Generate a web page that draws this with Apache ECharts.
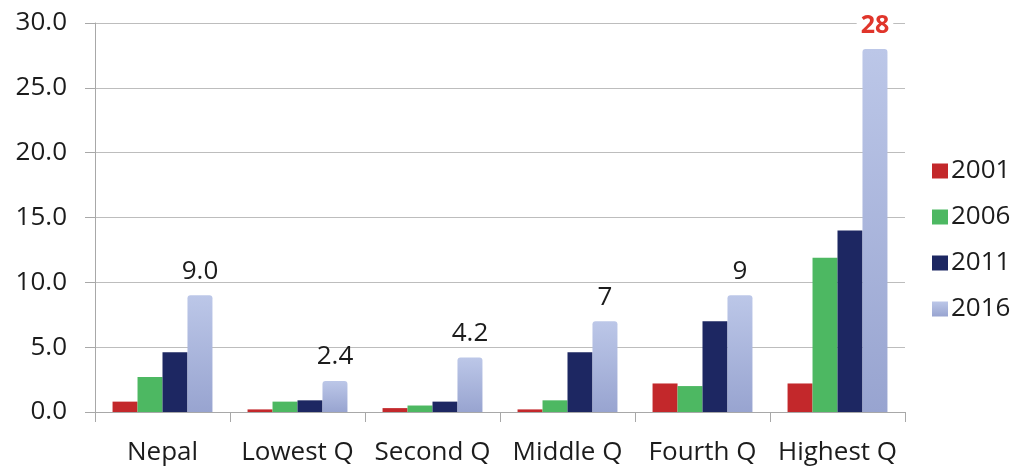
<!DOCTYPE html>
<html>
<head>
<meta charset="utf-8">
<script src="https://cdn.jsdelivr.net/npm/echarts@6/dist/echarts.min.js"></script>
<style>
  html, body { margin: 0; padding: 0; background: #fff; }
  #chart { width: 1021px; height: 467px; }
</style>
</head>
<body>
<div id="chart"></div>
<script>
// Groups along the x axis
const categories = ['Nepal', 'Lowest Q', 'Second Q', 'Middle Q', 'Fourth Q', 'Highest Q'];

// Survey years and their values per group
const years = ['2001', '2006', '2011', '2016'];
const values2001 = [0.8, 0.2, 0.3, 0.2, 2.2, 2.2];
const values2006 = [2.7, 0.8, 0.5, 0.9, 2.0, 11.9];
const values2011 = [4.6, 0.9, 0.8, 4.6, 7.0, 14.0];
const values2016 = [9.0, 2.4, 4.2, 7, 9, 28];

// Text printed above the 2016 bars
const labels2016 = ['9.0', '2.4', '4.2', '7', '9', '28'];

// Y axis range
const yMin = 0, yMax = 30, yStep = 5;

const FONT = 'Open Sans';
const TEXT = '#1c1c1c';

const lightGradient = new echarts.graphic.LinearGradient(0, 0, 0, 1, [
  { offset: 0, color: '#bcc7e8' },
  { offset: 1, color: '#98a4d0' }
]);

const colors = ['#c3282b', '#4db862', '#1d2762', lightGradient];
const seriesValues = [values2001, values2006, values2011, values2016];

const series = years.map((y, i) => {
  const s = {
    name: y,
    type: 'bar',
    barGap: '0%',
    barCategoryGap: '26%',
    itemStyle: { color: colors[i] },
    data: seriesValues[i].slice()
  };
  if (i === 3) {
    s.itemStyle.borderRadius = [3, 3, 0, 0];
    s.data = seriesValues[i].map((v, j) => {
      const item = { value: v };
      if (j === seriesValues[i].length - 1) {
        item.label = {
          color: '#e0352b',
          fontWeight: 'bold',
          fontSize: 25,
          backgroundColor: '#fff',
          padding: [0, 4],
          distance: 11
        };
      }
      return item;
    });
    s.label = {
      show: true,
      position: 'top',
      distance: 11,
      fontFamily: FONT,
      fontSize: 26,
      color: TEXT,
      formatter: p => labels2016[p.dataIndex]
    };
  }
  return s;
});

const chart = echarts.init(document.getElementById('chart'), null, { renderer: 'canvas' });
chart.setOption({
  animation: false,
  backgroundColor: '#fff',
  textStyle: { fontFamily: FONT },
  grid: { left: 95, right: 116, top: 23, bottom: 55, containLabel: false },
  legend: {
    orient: 'vertical',
    left: 927,
    top: 151,
    itemWidth: 16,
    itemHeight: 15,
    itemGap: 16,
    icon: 'rect',
    data: years,
    textStyle: { fontFamily: FONT, fontSize: 26, color: TEXT, lineHeight: 30, padding: [0, 0, 0, -2] }
  },
  xAxis: {
    type: 'category',
    data: categories,
    axisLine: { lineStyle: { color: '#a8a8a8', width: 1 } },
    axisTick: { show: true, length: 10, lineStyle: { color: '#a8a8a8' } },
    axisLabel: { fontFamily: FONT, fontSize: 26, color: TEXT, margin: 28, interval: 0 }
  },
  yAxis: {
    type: 'value',
    min: yMin,
    max: yMax,
    interval: yStep,
    axisLine: { show: true, lineStyle: { color: '#a8a8a8' } },
    axisTick: { show: true, length: 10, lineStyle: { color: '#a8a8a8' } },
    splitLine: { lineStyle: { color: '#bdbdbd' } },
    axisLabel: {
      fontFamily: FONT, fontSize: 26, color: TEXT, margin: 28,
      formatter: v => v.toFixed(1)
    }
  },
  series: series
});
</script>
</body>
</html>
